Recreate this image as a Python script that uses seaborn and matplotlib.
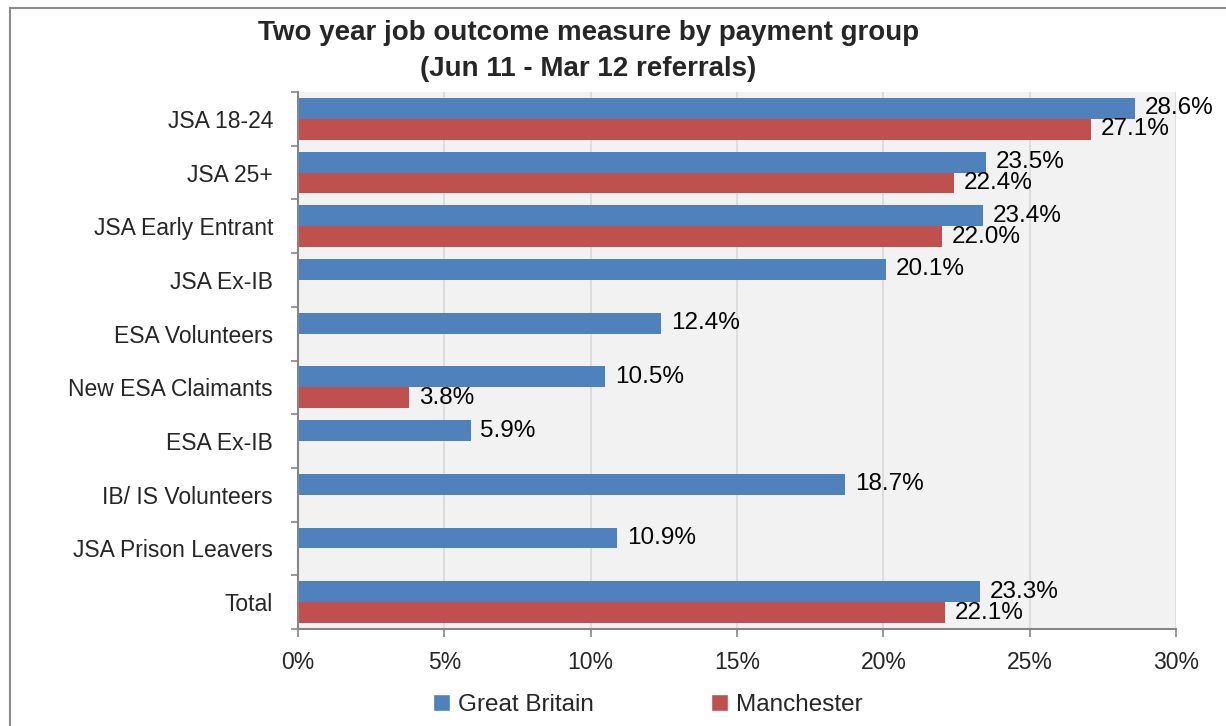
import numpy as np
import pandas as pd
import matplotlib
matplotlib.use("Agg")
import matplotlib.pyplot as plt
import seaborn as sns
from matplotlib.patches import Rectangle, Patch
from matplotlib.ticker import FuncFormatter, FixedLocator

categories = ["JSA 18-24", "JSA 25+", "JSA Early Entrant", "JSA Ex-IB", "ESA Volunteers",
              "New ESA Claimants", "ESA Ex-IB", "IB/ IS Volunteers", "JSA Prison Leavers", "Total"]
great_britain = [28.6, 23.5, 23.4, 20.1, 12.4, 10.5, 5.9, 18.7, 10.9, 23.3]
manchester = [27.1, 22.4, 22.0, np.nan, np.nan, 3.8, np.nan, np.nan, np.nan, 22.1]
series_names = ["Great Britain", "Manchester"]
colors = ["#4F81BD", "#C0504D"]
title = "Two year job outcome measure by payment group\n(Jun 11 - Mar 12 referrals)"

df = pd.DataFrame({
    "category": categories * 2,
    "value": great_britain + manchester,
    "series": [series_names[0]] * len(categories) + [series_names[1]] * len(categories),
})

sns.set_theme(style="white")
plt.rcParams["font.family"] = ["Liberation Sans", "DejaVu Sans"]

fig = plt.figure(figsize=(12.26, 7.26), dpi=100)
ax = fig.add_axes([298 / 1226, 1 - 629 / 726, (1176 - 298) / 1226, (629 - 92) / 726])
ax.set_facecolor("#F2F2F2")

sns.barplot(data=df, y="category", x="value", hue="series", order=categories,
            hue_order=series_names, palette=colors, orient="h", width=0.78,
            dodge=True, ax=ax, legend=False, saturation=1, linewidth=0)

for cont in ax.containers:
    ax.bar_label(cont, fmt="%.1f%%", padding=7, fontsize=17.5, color="black")

ax.set_xlim(0, 30)
ax.set_ylim(len(categories) - 0.5, -0.5)
ax.set_xticks(range(0, 31, 5))
ax.xaxis.set_major_formatter(FuncFormatter(lambda v, p: f"{int(v)}%"))
ax.set_xlabel("")
ax.set_ylabel("")
ax.xaxis.grid(True, color="#D9D9D9", lw=1.2)
ax.set_axisbelow(True)

for s in ["top", "right"]:
    ax.spines[s].set_visible(False)
for s in ["left", "bottom"]:
    ax.spines[s].set_color("#868686")
    ax.spines[s].set_linewidth(1.5)

ax.tick_params(axis="x", which="major", direction="out", length=6, width=1.2,
               color="#868686", pad=10, labelsize=16.5, bottom=True)
ax.tick_params(axis="y", which="major", length=0, pad=18, labelsize=16.5, left=True)
ax.yaxis.set_minor_locator(FixedLocator(np.arange(-0.5, len(categories), 1)))
ax.tick_params(axis="y", which="minor", direction="out", length=5, width=1.2,
               color="#868686", left=True)

fig.text(0.48, 0.973, title, ha="center", va="top", fontsize=20, fontweight="bold",
         linespacing=1.5)

handles = [Patch(facecolor=c, label=n) for c, n in zip(colors, series_names)]
fig.legend(handles=handles, loc="center", bbox_to_anchor=(648 / 1226, 1 - 705 / 726),
           ncol=2, frameon=False, fontsize=17.5, handlelength=0.7, handleheight=0.7,
           handletextpad=0.35, columnspacing=4.8)

fig.patches.append(Rectangle((10 / 1226, -0.1), 1.2, 1 - 8 / 726 + 0.1,
                             transform=fig.transFigure, fill=False,
                             edgecolor="#8C8C8C", lw=1.5))

fig.savefig("out.png", dpi=100)
